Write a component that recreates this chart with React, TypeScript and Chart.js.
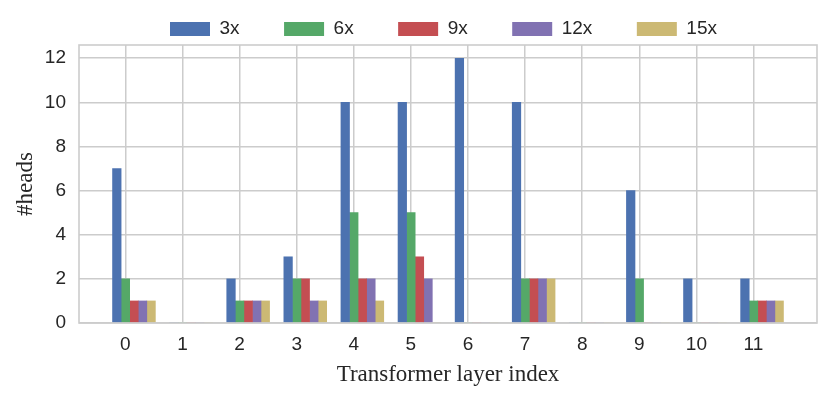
import React, { useEffect, useRef } from "react";
import { Chart, registerables } from "chart.js";

Chart.register(...registerables);

const categories = ["0", "1", "2", "3", "4", "5", "6", "7", "8", "9", "10", "11"];
const seriesLabels = ["3x", "6x", "9x", "12x", "15x"];
const heads3x = [7, 0, 2, 3, 10, 10, 12, 10, 0, 6, 2, 2];
const heads6x = [2, 0, 1, 2, 5, 5, 0, 2, 0, 2, 0, 1];
const heads9x = [1, 0, 1, 2, 2, 3, 0, 2, 0, 0, 0, 1];
const heads12x = [1, 0, 1, 1, 2, 2, 0, 2, 0, 0, 0, 1];
const heads15x = [1, 0, 1, 1, 1, 0, 0, 2, 0, 0, 0, 1];
const yTicks = [0, 2, 4, 6, 8, 10, 12];

const seriesValues = [heads3x, heads6x, heads9x, heads12x, heads15x];
const colors = ["#4C72B0", "#55A868", "#C44E52", "#8172B2", "#CCB974"];

const BAR_W = 0.15; // bar width in category units
const X_MIN = -0.8125;
const X_MAX = 12.1125;
const Y_MAX = 12.6;

const TEXT = "#262626";
const GRID = "#cccccc";

const framePlugin = {
  id: "framePlugin",
  afterLayout(chart: any) {
    const lg = chart.legend;
    if (!lg) return;
    const pad = lg.options.labels.padding;
    const w = lg.right - lg.left;
    lg.left = 170 - pad;
    lg.right = lg.left + w;
    lg.top = 22 - pad - 2.5;
    lg.bottom = chart.chartArea.top;
  },
  afterDatasetsDraw(chart: any) {
    const { ctx, chartArea } = chart;
    ctx.save();
    ctx.strokeStyle = GRID;
    ctx.lineWidth = 1.6;
    ctx.strokeRect(
      chartArea.left,
      chartArea.top,
      chartArea.right - chartArea.left,
      chartArea.bottom - chartArea.top
    );
    ctx.restore();
  },
};

export default function App() {
  const ref = useRef<HTMLCanvasElement | null>(null);

  useEffect(() => {
    if (!ref.current) return;
    const datasets = seriesLabels.map((label, k) => ({
      label,
      data: categories.map((_, i) => ({ x: i + (k - 1) * BAR_W, y: seriesValues[k][i] })),
      backgroundColor: colors[k],
      borderWidth: 0,
      grouped: false,
      categoryPercentage: 1,
      barPercentage: 1,
    }));

    const chart = new Chart(ref.current, {
      type: "bar",
      data: { datasets },
      plugins: [framePlugin],
      options: {
        animation: false,
        responsive: false,
        devicePixelRatio: 1,
        layout: { padding: { top: 0, right: 14, left: 0, bottom: 0 } },
        plugins: {
          tooltip: { enabled: false },
          legend: {
            position: "top",
            align: "start",
            maxHeight: 45,
            labels: {
              boxWidth: 40,
              boxHeight: 14,
              padding: 44.5,
              color: TEXT,
              font: { family: "'Liberation Sans', Arial, sans-serif", size: 19 },
            },
          },
        },
        scales: {
          x: {
            type: "linear",
            min: X_MIN,
            max: X_MAX,
            offset: false,
            grid: { offset: false, color: GRID, lineWidth: 1.5, drawTicks: false },
            border: { display: false },
            afterBuildTicks: (axis: any) => {
              axis.ticks = categories.map((_, i) => ({ value: i }));
            },
            afterFit: (axis: any) => {
              axis.height = 76;
            },
            ticks: {
              padding: 10,
              color: TEXT,
              autoSkip: false,
              maxRotation: 0,
              font: { family: "'Liberation Sans', Arial, sans-serif", size: 19 },
              callback: (v: any) => categories[Math.round(Number(v))] ?? "",
            },
            title: {
              display: true,
              text: "Transformer layer index",
              color: TEXT,
              padding: { top: 0, bottom: 10 },
              font: { family: "'Liberation Serif', 'Times New Roman', serif", size: 23 },
            },
          },
          y: {
            type: "linear",
            min: 0,
            max: Y_MAX,
            grid: { color: GRID, lineWidth: 1.5, drawTicks: false },
            border: { display: false },
            afterBuildTicks: (axis: any) => {
              axis.ticks = yTicks.map((v) => ({ value: v }));
            },
            afterFit: (axis: any) => {
              axis.width = 79;
            },
            ticks: {
              padding: 13,
              color: TEXT,
              font: { family: "'Liberation Sans', Arial, sans-serif", size: 19 },
              callback: (v: any) => String(v),
            },
            title: {
              display: true,
              text: "#heads",
              color: TEXT,
              padding: { top: 12, bottom: 0 },
              font: { family: "'Liberation Serif', 'Times New Roman', serif", size: 23 },
            },
          },
        },
      },
    } as any);
    return () => chart.destroy();
  }, []);

  return (
    <div style={{ position: "absolute", left: 0, top: 0, width: 831, height: 399, background: "#fff" }}>
      <canvas ref={ref} width={831} height={399} style={{ display: "block", width: 831, height: 399 }} />
    </div>
  );
}
